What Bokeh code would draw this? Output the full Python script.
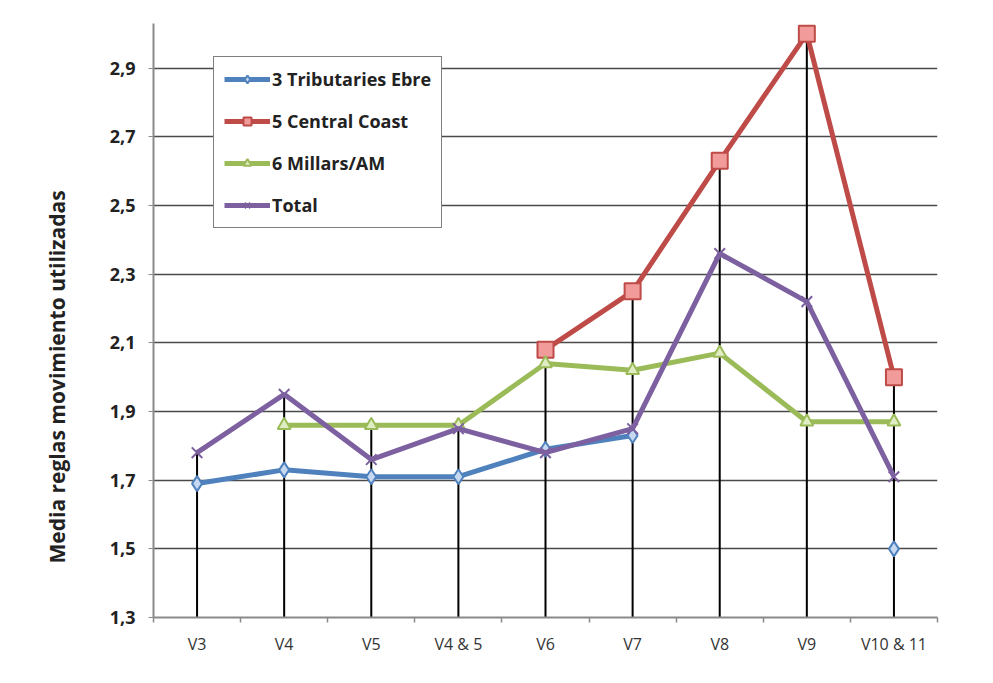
import numpy as np
from bokeh.plotting import figure
from bokeh.models import FixedTicker, Legend, LegendItem, Title, Range1d, CustomJSTickFormatter
from bokeh.embed import file_html
from bokeh.resources import INLINE

nan = np.nan
categories = ["V3", "V4", "V5", "V4 & 5", "V6", "V7", "V8", "V9", "V10 & 11"]
tributaries = [1.69, 1.73, 1.71, 1.71, 1.79, 1.83, nan, nan, 1.50]
central_coast = [nan, nan, nan, nan, 2.08, 2.25, 2.63, 3.00, 2.00]
millars = [nan, 1.86, 1.86, 1.86, 2.04, 2.02, 2.07, 1.87, 1.87]
total = [1.78, 1.95, 1.76, 1.85, 1.78, 1.85, 2.36, 2.22, 1.71]
y_ticks = [1.3, 1.5, 1.7, 1.9, 2.1, 2.3, 2.5, 2.7, 2.9]
y_min, y_max = 1.3, 3.03
y_title = "Media reglas movimiento utilizadas"

FONT = "Open Sans"
n = len(categories)
xs = np.arange(n) + 0.5

p = figure(width=993, height=683, frame_width=784, frame_height=594,
           x_range=Range1d(0, n), y_range=Range1d(y_min, y_max),
           output_backend="svg", toolbar_location=None,
           min_border_left=153, min_border_right=56, min_border_top=23, min_border_bottom=66)
p.outline_line_color = None
p.background_fill_color = "white"
p.border_fill_color = "white"

# grid
p.xgrid.visible = False
p.ygrid.ticker = FixedTicker(ticks=y_ticks)
p.ygrid.grid_line_color = "#4a4a4a"
p.ygrid.grid_line_width = 1.5

# y axis
p.yaxis.ticker = FixedTicker(ticks=y_ticks)
p.yaxis.formatter = CustomJSTickFormatter(code="return tick.toFixed(1).replace('.', ',');")
p.yaxis.axis_line_color = "#8a8a8a"
p.yaxis.axis_line_width = 2
p.yaxis.major_tick_line_color = "#8a8a8a"
p.yaxis.major_tick_out = 5
p.yaxis.major_tick_in = 0
p.yaxis.minor_tick_line_color = None
p.yaxis.major_label_text_font = FONT
p.yaxis.major_label_text_font_style = "bold"
p.yaxis.major_label_text_font_size = "18px"
p.yaxis.major_label_text_color = "#222222"
p.yaxis.major_label_standoff = 13

# x axis
p.xaxis.ticker = FixedTicker(ticks=list(xs), minor_ticks=list(range(n + 1)))
p.xaxis.formatter = CustomJSTickFormatter(args=dict(labels=categories),
                                          code="return labels[Math.floor(tick)];")
p.xaxis.axis_line_color = "#8a8a8a"
p.xaxis.axis_line_width = 2
p.xaxis.major_tick_line_color = None
p.xaxis.minor_tick_line_color = "#8a8a8a"
p.xaxis.minor_tick_out = 5
p.xaxis.minor_tick_in = 0
p.xaxis.minor_tick_line_width = 1.5
p.xaxis.major_label_text_font = FONT
p.xaxis.major_label_text_font_size = "16px"
p.xaxis.major_label_text_color = "#333333"
p.xaxis.major_label_standoff = 9

# drop lines from the highest value of each category
tops = np.nanmax(np.array([tributaries, central_coast, millars, total]), axis=0)
p.segment(x0=xs, y0=tops, x1=xs, y1=[y_min] * n, line_color="black", line_width=2)

series = [
    ("3 Tributaries Ebre", tributaries, "#4f81bd", "diamond", "#c6d9f1", 15),
    ("5 Central Coast", central_coast, "#be4b48", "square", "#f19c9a", 16),
    ("6 Millars/AM", millars, "#9bbb59", "triangle", "#e0edc4", 13),
    ("Total", total, "#7d60a0", "x", "#7d60a0", 15),
]
items = []
for name, vals, col, marker, fill, size in series:
    ln = p.line(xs, vals, line_color=col, line_width=5)
    sc = p.scatter(xs, vals, marker=marker, size=size, fill_color=fill,
                   line_color=col, line_width=2)
    items.append(LegendItem(label=name, renderers=[ln, sc]))

legend = Legend(items=items, location=(60, 389))
legend.border_line_color = "black"
legend.border_line_width = 1.5
legend.background_fill_color = "white"
legend.background_fill_alpha = 1
legend.label_text_font = FONT
legend.label_text_font_style = "bold"
legend.label_text_font_size = "18px"
legend.label_text_color = "#222222"
legend.glyph_width = 46
legend.glyph_height = 20
legend.label_height = 20
legend.spacing = 18
legend.padding = 10
legend.margin = 0
legend.label_standoff = 2
p.add_layout(legend)

ytitle = Title(text=y_title, align="left", offset=54, standoff=71,
               text_font=FONT, text_font_style="bold", text_font_size="21px",
               text_color="#222222")
p.add_layout(ytitle, "left")

open("out.html", "w").write(file_html(p, INLINE))
